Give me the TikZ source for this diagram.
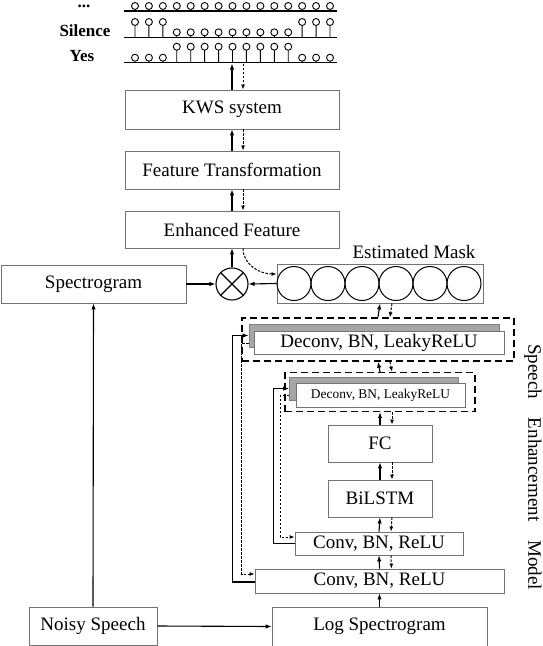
\documentclass[tikz,border=0pt]{standalone}
\usepackage{fontspec}
\setmainfont{Liberation Serif}[BoldFont={Liberation Serif Bold}]
\usetikzlibrary{arrows.meta}

\begin{document}
\begin{tikzpicture}[x=1pt,y=-1pt,
  blk/.style={draw=black!55, line width=0.8pt, fill=white, inner sep=0pt, font=\fontsize{19}{22}\selectfont},
  backblk/.style={draw=black!50, line width=0.8pt, fill=black!35, inner sep=0pt},
  dashbox/.style={draw, dash pattern=on 7pt off 4pt, line width=1.4pt, inner sep=0pt},
  arr/.style={-{Latex[length=6pt,width=4.5pt]}, line width=1.1pt},
  darr/.style={-{Latex[length=5pt,width=4pt]}, line width=1pt, dash pattern=on 2.5pt off 1.5pt},
  stem/.style={line width=0.9pt},
  lbl/.style={font=\fontsize{17}{20}\selectfont\bfseries, anchor=base}]
\useasboundingbox (0,0) rectangle (542,646);

% output: stem plots of the classes
\node[lbl, text height=2.5pt, inner sep=0pt] (lbldots) at (84,7) {...};
\node[lbl] (lblsil) at (85,36) {Silence};
\node[lbl] (lblyes) at (82,61) {Yes};
\foreach \yb in {11,37.7,62.7}
  \draw[line width=1.3pt] (124,\yb) -- (337,\yb);
\foreach \i in {0,...,14}
  \draw[stem] (135+13.93*\i,11) -- ++(0,-1.5) ++(0,-3.5) circle (3.5pt);
\foreach \i in {0,...,14}{
  \pgfmathsetmacro\stemlen{ifthenelse(\i<3 || \i>11,12.2,1.9)}
  \draw[stem] (135+13.93*\i,37.7) -- ++(0,-\stemlen) ++(0,-3.5) circle (3.5pt);
}
\foreach \i in {0,...,14}{
  \pgfmathsetmacro\stemlen{ifthenelse(\i<3 || \i>11,1.5,12.5)}
  \draw[stem] (135+13.93*\i,62.7) -- ++(0,-\stemlen) ++(0,-3.5) circle (3.5pt);
}
\coordinate (yesline) at (232,63.5);

% KWS branch
\node[blk, minimum width=214pt, minimum height=39pt] (kws) at (232,109.5) {KWS system};
\node[blk, minimum width=214pt, minimum height=38pt] (feat) at (232,170) {Feature Transformation};
\node[blk, minimum width=214pt, minimum height=37pt] (enh) at (232,229.5) {Enhanced Feature};
\node[blk, minimum width=185pt, minimum height=38pt] (spec) at (93.5,284) {Spectrogram};
\node[draw, circle, line width=1.1pt, minimum size=32pt, inner sep=0pt] (mult) at (232,284) {};
\draw[line width=1.1pt] (mult.45) -- (mult.225) (mult.135) -- (mult.315);

% estimated mask
\node[blk, minimum width=206pt, minimum height=39pt] (mask) at (380,283.5) {};
\foreach \i in {0,...,5}
  \node[draw, circle, line width=1pt, minimum size=34pt, inner sep=0pt] (m\i) at (294+34*\i,283.5) {};
\node[font=\fontsize{19}{22}\selectfont, anchor=base] (masklbl) at (414,258) {Estimated Mask};

% speech enhancement model
\node[dashbox, minimum width=272pt, minimum height=43pt] (dbox1) at (378,339.5) {};
\node[backblk, minimum width=250pt, minimum height=23pt] (dcb1) at (374,335.5) {};
\node[blk, minimum width=250pt, minimum height=23pt] (dc1) at (379,342.5) {Deconv, BN, LeakyReLU};
\node[dashbox, minimum width=190pt, minimum height=39pt] (dbox2) at (380,392) {};
\node[backblk, minimum width=169pt, minimum height=23pt] (dcb2) at (374,388.5) {};
\node[blk, minimum width=169pt, minimum height=24pt, font=\fontsize{13.4}{16}\selectfont] (dc2) at (380.5,395.5) {Deconv, BN, LeakyReLU};
\node[blk, minimum width=104pt, minimum height=37pt] (fc) at (380,443.5) {FC};
\node[blk, minimum width=104pt, minimum height=37pt] (lstm) at (380,498.5) {BiLSTM};
\node[blk, minimum width=168pt, minimum height=23pt] (conv1) at (379,543.5) {Conv, BN, ReLU};
\node[blk, minimum width=249pt, minimum height=24pt] (conv2) at (379.5,581) {Conv, BN, ReLU};
\node[blk, minimum width=215pt, minimum height=39pt] (logspec) at (379.5,626.5) {Log Spectrogram};
\node[blk, minimum width=128pt, minimum height=38pt] (noisy) at (93,626) {Noisy Speech};
\node[rotate=-90, font=\fontsize{19}{22}\selectfont] (semlbl) at (533,467) {Speech\quad Enhancement\quad Model};

% forward (solid) and backward (dashed) arrows
\draw[arr] (kws.north) -- (yesline);
\draw[darr] ([xshift=11pt]yesline) -- ([xshift=11pt]kws.north);
\foreach \a/\b in {enh/feat, feat/kws}{
  \draw[arr] (\a.north) -- (\b.south);
  \draw[darr] ([xshift=11pt]\b.south) -- ([xshift=11pt]\a.north);
}
\foreach \a/\b in {conv2/conv1, conv1/lstm, lstm/fc, fc/dbox2, dbox2/dbox1, dbox1/mask}{
  \draw[arr] (\a.north) -- (\b.south);
  \draw[darr] ([xshift=12pt]\b.south) -- ([xshift=12pt]\a.north);
}
\draw[arr] (logspec.north) -- (conv2.south);
\draw[arr] (noisy.east) -- (logspec.west);
\draw[arr] (noisy.north) -- (spec.south);
\draw[arr] (spec.east) -- (mult.west);
\draw[arr] (mask.west) -- (mult.east);
\draw[arr] (mult.north) -- (enh.south);
\draw[darr] ([xshift=11pt]enh.south) to[out=-90, in=180] ([yshift=9.5pt]mask.west);

% skip connections
\draw[arr] ([yshift=-1pt]conv2.west) -- ++(-22,0) |- (dcb1.west);
\draw[darr] ([yshift=-7.5pt]dcb1.west) -- ++(-7,0) |- ([yshift=7pt]conv2.west);
\draw[arr] (conv1.west) -- ++(-21,0) |- (dcb2.west);
\draw[darr] ([yshift=-7pt]dcb2.west) -- ++(-9,0) |- ([yshift=6.5pt]conv1.west);
\end{tikzpicture}
\end{document}
